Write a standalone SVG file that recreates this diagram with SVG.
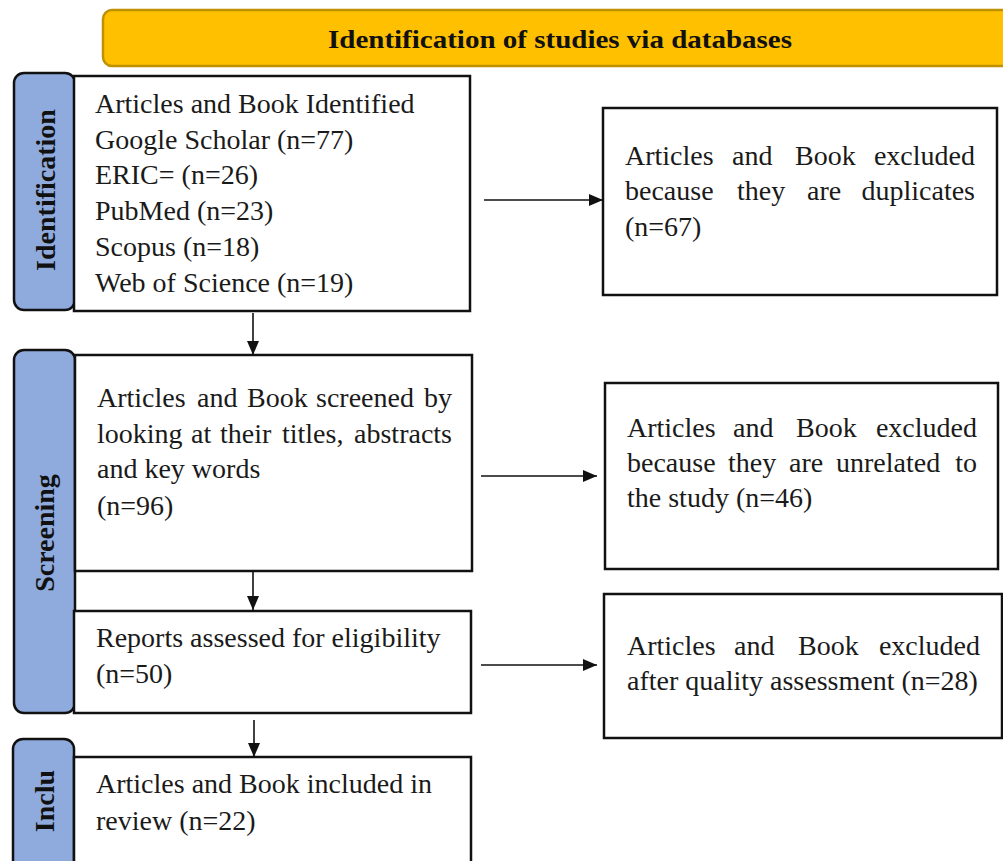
<svg xmlns="http://www.w3.org/2000/svg" width="1003" height="861" viewBox="0 0 1003 861">
<style>
.t{font-family:"Liberation Serif","Times New Roman",serif;font-size:28px;fill:#1a1a1a}
.e{text-anchor:end}
.b{font-family:"Liberation Serif","Times New Roman",serif;font-size:28px;font-weight:bold;fill:#111}
.box{fill:#fff;stroke:#111;stroke-width:2.5}
.side{fill:#8faadc;stroke:#111;stroke-width:2.5}
.ln{stroke:#111;stroke-width:1.6;fill:none}
</style>
<defs>
<marker id="ah" markerUnits="userSpaceOnUse" viewBox="0 0 14 12" refX="14" refY="6" markerWidth="14" markerHeight="12" orient="auto">
<path d="M0,0 L14,6 L0,12 z" fill="#111"/>
</marker>
</defs>
<rect width="1003" height="861" fill="#fff"/>

<g id="banner">
<rect x="103" y="10" width="920" height="56" rx="9" fill="#ffc000" stroke="#bf9000" stroke-width="2.5"/>
<text class="b" x="560" y="48" text-anchor="middle" style="font-size:26px" textLength="464" lengthAdjust="spacingAndGlyphs">Identification of studies via databases</text>
</g>

<g id="side-identification">
<rect class="side" x="14" y="73" width="61" height="237" rx="10"/>
<text class="b" transform="translate(55,190) rotate(-90)" text-anchor="middle">Identification</text>
</g>
<g id="side-screening">
<rect class="side" x="14" y="350" width="61" height="363" rx="10"/>
<text class="b" transform="translate(54,533) rotate(-90)" text-anchor="middle">Screening</text>
</g>
<g id="side-inclu">
<rect class="side" x="13" y="739" width="61" height="140" rx="10"/>
<text class="b" transform="translate(54,801) rotate(-90)" text-anchor="middle">Inclu</text>
</g>

<g id="identified">
<rect class="box" x="74" y="76" width="396" height="235"/>
<text class="t" x="95" y="113">Articles and Book Identified</text>
<text class="t" x="95" y="149">Google Scholar (n=77)</text>
<text class="t" x="95" y="184">ERIC= (n=26)</text>
<text class="t" x="95" y="220">PubMed (n=23)</text>
<text class="t" x="95" y="256">Scopus (n=18)</text>
<text class="t" x="95" y="292">Web of Science (n=19)</text>
</g>

<g id="duplicates">
<rect class="box" x="603" y="108" width="394" height="187"/>
<text class="t" y="165"><tspan x="625">Articles</tspan><tspan x="732">and</tspan><tspan x="795">Book</tspan></text>
<text class="t e" x="975" y="165">excluded</text>
<text class="t" y="200"><tspan x="625">because</tspan><tspan x="737">they</tspan><tspan x="807">are</tspan></text>
<text class="t e" x="975" y="200">duplicates</text>
<text class="t" x="625" y="236">(n=67)</text>
</g>

<g id="screened">
<rect class="box" x="75" y="355" width="397" height="216"/>
<text class="t" y="407"><tspan x="97">Articles</tspan><tspan x="197">and</tspan><tspan x="247">Book</tspan><tspan x="316">screened</tspan></text>
<text class="t e" x="452" y="407">by</text>
<text class="t" y="443"><tspan x="97">looking</tspan><tspan x="191">at</tspan><tspan x="220">their</tspan><tspan x="282">titles,</tspan></text>
<text class="t e" x="452" y="443">abstracts</text>
<text class="t" x="97" y="478">and key words</text>
<text class="t" x="97" y="515">(n=96)</text>
</g>

<g id="unrelated">
<rect class="box" x="605" y="383" width="393" height="186"/>
<text class="t" y="437"><tspan x="627">Articles</tspan><tspan x="733">and</tspan><tspan x="796">Book</tspan></text>
<text class="t e" x="977" y="437">excluded</text>
<text class="t" y="472"><tspan x="627">because</tspan><tspan x="728">they</tspan><tspan x="789">are</tspan><tspan x="836">unrelated</tspan></text>
<text class="t e" x="977" y="472">to</text>
<text class="t" x="627" y="507">the study (n=46)</text>
</g>

<g id="eligibility">
<rect class="box" x="74" y="611" width="397" height="102"/>
<text class="t" x="96" y="647">Reports assessed for eligibility</text>
<text class="t" x="96" y="683">(n=50)</text>
</g>

<g id="quality">
<rect class="box" x="604" y="594" width="398" height="144"/>
<text class="t" y="655"><tspan x="627">Articles</tspan><tspan x="734">and</tspan><tspan x="798">Book</tspan></text>
<text class="t e" x="980" y="655">excluded</text>
<text class="t" x="627" y="690">after quality assessment (n=28)</text>
</g>

<g id="included">
<rect class="box" x="74" y="757" width="397" height="120"/>
<text class="t" x="96" y="793">Articles and Book included in</text>
<text class="t" x="96" y="830">review (n=22)</text>
</g>

<g id="connectors">
<line class="ln" x1="253" y1="313" x2="253" y2="355" marker-end="url(#ah)"/>
<line class="ln" x1="253" y1="572" x2="253" y2="610" marker-end="url(#ah)"/>
<line class="ln" x1="254" y1="720" x2="254" y2="757" marker-end="url(#ah)"/>
<line class="ln" x1="484" y1="200" x2="603" y2="200" marker-end="url(#ah)"/>
<line class="ln" x1="481" y1="476" x2="597" y2="476" marker-end="url(#ah)"/>
<line class="ln" x1="481" y1="665" x2="597" y2="665" marker-end="url(#ah)"/>
</g>
</svg>
